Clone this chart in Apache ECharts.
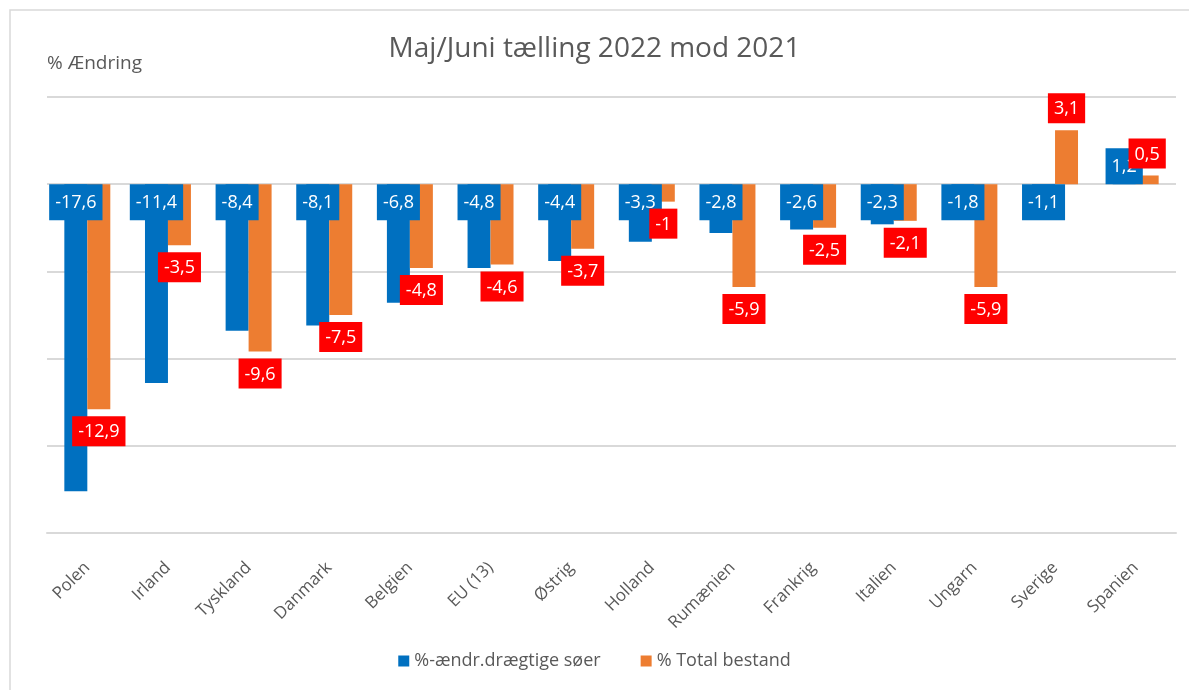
<!DOCTYPE html>
<html>
<head>
<meta charset="utf-8">
<script src="https://cdn.jsdelivr.net/npm/echarts@6/dist/echarts.min.js"></script>
<style>
  html, body { margin: 0; padding: 0; background: #fff; }
  #chart { width: 1189px; height: 690px; }
</style>
</head>
<body>
<div id="chart"></div>
<script>
// data
var countries = ['Polen', 'Irland', 'Tyskland', 'Danmark', 'Belgien', 'EU (13)', 'Østrig', 'Holland', 'Rumænien', 'Frankrig', 'Italien', 'Ungarn', 'Sverige', 'Spanien'];
var draegtige = [-17.6, -11.4, -8.4, -8.1, -6.8, -4.8, -4.4, -3.3, -2.8, -2.6, -2.3, -1.8, -1.1, 1.2];
var totalBestand = [-12.9, -3.5, -9.6, -7.5, -4.8, -4.6, -3.7, -1, -5.9, -2.5, -2.1, -5.9, 3.1, 0.5];
var yTicks = [-20, -15, -10, -5, 0, 5];

var textColor = '#595959';
var fontName = 'Open Sans, Lato, sans-serif';

function komma(v) {
    return String(v).replace('.', ',');
}

// blue labels sit at the base of the bar, orange labels just outside the end
var blueData = draegtige.map(function (v) {
    return { value: v, label: { position: v < 0 ? 'insideTop' : 'insideBottom' } };
});
var orangeData = totalBestand.map(function (v) {
    return { value: v, label: { position: v < 0 ? 'bottom' : 'top' } };
});

var chart = echarts.init(document.getElementById('chart'));
chart.setOption({
    textStyle: { fontFamily: fontName },
    title: {
        text: 'Maj/Juni tælling 2022 mod 2021',
        left: 'center',
        top: 30,
        textStyle: { color: textColor, fontSize: 28, fontWeight: 'normal', fontFamily: fontName }
    },
    graphic: [
        {
            type: 'rect',
            shape: { x: 10, y: 10, width: 1200, height: 700 },
            style: { fill: 'none', stroke: '#d9d9d9', lineWidth: 1.5 },
            silent: true
        },
        {
            type: 'text',
            left: 47,
            top: 54,
            style: { text: '% Ændring', fill: textColor, fontSize: 19, fontFamily: fontName }
        }
    ],
    legend: {
        bottom: 15,
        left: 'center',
        itemWidth: 11,
        itemHeight: 11,
        itemGap: 40,
        icon: 'rect',
        textStyle: { color: textColor, fontSize: 18, fontFamily: fontName },
        data: ['%-ændr.drægtige søer', '% Total bestand']
    },
    grid: { left: 47, right: 13, top: 97, bottom: 157 },
    xAxis: {
        type: 'category',
        data: countries,
        position: 'bottom',
        axisLine: { show: true, onZero: false, lineStyle: { color: '#d9d9d9', width: 2 } },
        axisTick: { show: false },
        axisLabel: { rotate: 45, color: textColor, fontSize: 17, margin: 32, fontFamily: fontName }
    },
    yAxis: {
        type: 'value',
        min: yTicks[0],
        max: yTicks[yTicks.length - 1],
        interval: 5,
        axisLine: { show: false },
        axisTick: { show: false },
        axisLabel: { show: false },
        splitLine: { lineStyle: { color: '#d9d9d9', width: 2 } }
    },
    series: [
        {
            name: '%-ændr.drægtige søer',
            type: 'bar',
            data: blueData,
            barGap: '0%',
            barCategoryGap: '43%',
            itemStyle: { color: '#0070C0' },
            label: {
                show: true,
                distance: 0,
                color: '#fff',
                fontSize: 18,
                fontFamily: fontName,
                backgroundColor: '#0070C0',
                padding: [10, 6, 8, 6],
                formatter: function (p) { return komma(p.value); }
            }
        },
        {
            name: '% Total bestand',
            type: 'bar',
            data: orangeData,
            itemStyle: { color: '#ED7D31' },
            label: {
                show: true,
                distance: 7,
                color: '#fff',
                fontSize: 18,
                fontFamily: fontName,
                backgroundColor: '#FF0000',
                padding: [7, 6, 5, 6],
                formatter: function (p) { return komma(p.value); }
            }
        }
    ]
});
</script>
</body>
</html>
